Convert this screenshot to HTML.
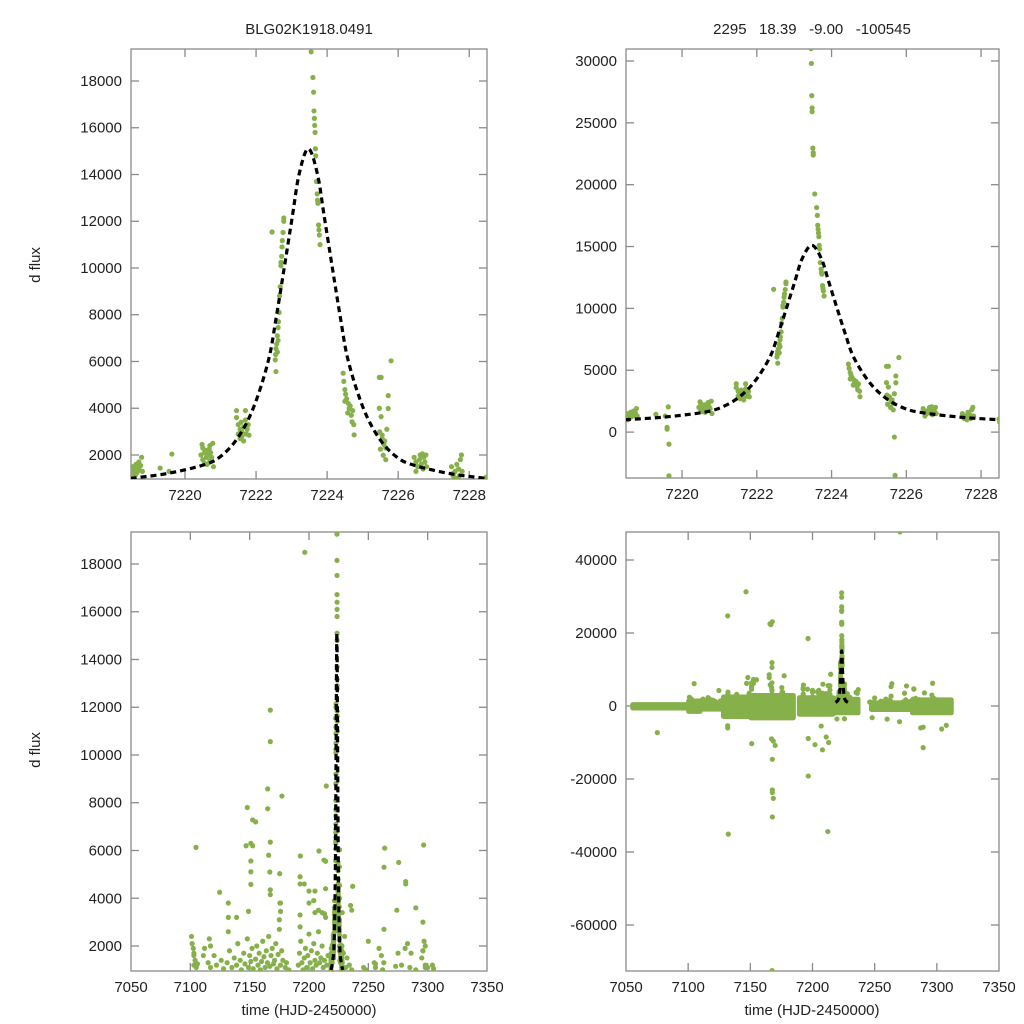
<!DOCTYPE html>
<html><head><meta charset="utf-8">
<style>
html,body{margin:0;padding:0;background:#fff;width:1024px;height:1024px;overflow:hidden;position:relative;}
svg{display:block;position:absolute;left:0;top:0;font-family:"Liberation Sans",sans-serif;}
</style></head>
<body>
<svg id="fig" width="1024" height="1024" viewBox="0 0 1024 1024" xmlns="http://www.w3.org/2000/svg">
<rect width="1024" height="1024" fill="#fff"/>
<text x="309" y="34" font-size="15" text-anchor="middle" fill="#222">BLG02K1918.0491</text>
<text x="812" y="34" font-size="15" text-anchor="middle" fill="#222" xml:space="preserve">2295   18.39   -9.00   -100545</text>
<text transform="translate(40,265) rotate(-90)" font-size="15" text-anchor="middle" fill="#222">d flux</text>
<text transform="translate(40,750) rotate(-90)" font-size="15" text-anchor="middle" fill="#222">d flux</text>
<text x="309" y="1015" font-size="15" text-anchor="middle" fill="#222">time (HJD-2450000)</text>
<text x="812" y="1015" font-size="15" text-anchor="middle" fill="#222">time (HJD-2450000)</text>
</svg>
<script>
// ---- event-window photometry (time, flux) ----
const eventT = [7218.5,7218.52,7218.55,7218.57,7218.6,7218.62,7218.65,7218.67,7218.7,7218.72,7218.75,7218.78,7218.8,7218.55,7218.6,
7219.3,7219.63,7219.55,7219.6,7219.6,7219.65,7219.65,
7220.45,7220.5,7220.5,7220.55,7220.6,7220.6,7220.62,7220.65,7220.7,7220.7,7220.72,7220.75,7220.78,7220.8,7220.55,7220.68,7220.48,
7221.45,7221.45,7221.5,7221.5,7221.55,7221.55,7221.6,7221.6,7221.65,7221.65,7221.7,7221.7,7221.72,7221.75,7221.78,7221.8,7221.58,
7222.45,7222.78,7222.78,7222.76,7222.74,7222.73,7222.72,7222.7,7222.7,7222.68,7222.66,7222.65,7222.63,7222.62,7222.6,7222.58,7222.56,7222.55,7222.54,7222.56,7222.6,7222.62,
7223.45,7223.46,7223.47,7223.48,7223.48,7223.5,7223.51,7223.51,7223.55,7223.6,7223.62,7223.63,7223.64,7223.65,7223.66,7223.67,7223.68,7223.7,7223.72,7223.73,7223.74,7223.76,7223.77,7223.78,7223.8,
7224.45,7224.47,7224.5,7224.52,7224.55,7224.6,7224.62,7224.65,7224.68,7224.7,7224.72,7224.75,7224.76,7224.5,7224.58,
7225.8,7225.47,7225.52,7225.72,7225.47,7225.72,7225.52,7225.68,7225.48,7225.55,7225.6,7225.65,7225.5,7225.58,7225.62,7225.55,7225.68,7225.7,7225.65,
7226.45,7226.5,7226.55,7226.6,7226.62,7226.65,7226.7,7226.72,7226.75,7226.78,7226.8,7226.5,7226.68,
7227.5,7227.52,7227.55,7227.6,7227.62,7227.65,7227.7,7227.72,7227.75,7227.78,7227.8,7227.58,
7228.48,7228.5];
const eventF = [1200,1500,1300,1100,1400,1600,1250,1450,1700,1350,1550,1900,1300,1000,1150,
1440,2040,1300,380,240,-970,-3540,
2000,2300,1800,2100,1900,2200,1600,2000,2400,1750,2100,1900,2500,1500,1650,2250,2450,
3900,3600,3300,2900,3100,2700,3000,2800,3200,2600,3900,3500,2900,3100,3300,2850,3400,
11540,12140,12000,11520,11170,10900,10500,10240,10100,9200,8800,8100,7700,7450,7100,6750,6550,6300,6070,5570,6400,6900,
31000,29800,27200,26200,25900,22960,22580,22400,19250,18150,17520,16720,16400,16100,15800,15100,14800,13700,13170,12900,12770,11840,11630,11410,11000,
5500,5150,4800,4600,4400,4200,3990,4100,3700,3420,3900,3300,2860,4300,3800,
6030,5320,5320,4540,4000,3990,3640,3100,2990,2700,2450,2300,2250,1990,2600,2850,-400,-3500,1800,
1900,1700,1500,1800,2000,1600,1400,1900,1700,2000,1500,1300,2050,
1500,1200,1100,1300,1000,1600,1400,1100,1800,2000,1300,1250,
1050,800];
// ---- season scatter points (time, flux) ----
const seasonT = [7131,7133,7135,7137,7139,7140,7142,7143,7145,7146,7148,7149,7150,7151,7152,7153,7155,7156,7157,7158,7159,7160,7161,7162,7163,7164,7165,7166,7167,7168,7169,7170,7171,7172,7173,7174,7175,7175,7176,7177,7178,7180,7181,7183,
7191,7192,7193,7194,7195,7196,7197,7198,7199,7200,7201,7202,7203,7204,7205,7206,7207,7208,7209,7210,7211,7212,7213,7214,7215,7216,7226,7227,7228,7229,7230,7231,7232,7234,7236,
7115,7117,7120,7122,7126,7128,7103,7104,7105,7106,7112,7111,7246,7248,7255,7256,7262,7275,7278,7285,7290,7295,7296,7298,7300,7305,
7196.4,7167.4,7167.4,7165.2,7177.2,7165.2,7152.5,7104.8,7147,7152.5,7167.4,7296.6,7214.6,7208.4,7192.7,7212.6,7214,7151,7151,7151,7166,7167,7175.3,7167.4,7167.4,7124.7,7192.5,7196,7192.5,7200,7205,7214,7236.8,7263.2,7281.5,7281.5,7132,7132,7132,7139,7149,7175.5,7176,7176,7192.5,7192.5,7200,7204,7208,7205,7211,7213,7235,7236,7228,7274,7290,7296,7263.2,7250,7283,7281,7286,7297,7298,7296,7259,7261,7263,7256,7273,7304,7298,7101,7101.5,7102.5,7103,7103,7117,7116,
7270.4,7146.5,7131.8,7167.7,7165.8,7166.5,7263.8,7275.6,7148,7155,7151,
7075.2,7131.8,7131.8,7151.1,7167,7168.5,7170,7167.7,7167.7,7167.7,7168.5,7167.7,7132.3,7212.3,7196.6,7196.6,7202,7207,7208,7211,7213,7289,7289,7287,7303.9,7307.6,7270,7248,7260,7167.5];
const seasonF = [1300,1800,1100,1500,1200,2100,1400,1000,1700,1250,2300,1100,1600,1350,1900,1050,1450,2000,1200,1700,1000,1350,2200,1550,1100,1800,1300,2400,1150,1600,1900,1250,1400,2100,1050,1650,2700,3100,1200,1800,1400,1100,1300,1000,
1200,1700,2200,1300,1000,1500,1900,1100,1600,2500,1300,1800,1050,2100,1400,1200,1700,2600,1300,1500,2000,1100,1400,3200,1200,1600,1400,2000,1300,1700,2400,1100,1500,1200,1000,
1300,1100,1600,1200,1400,1050,1700,1400,1100,1250,1900,1600,1100,1000,1300,1100,1000,1700,1200,1100,1000,1500,1800,1200,1100,1050,
18490,11880,10560,8580,8280,7750,7280,6130,6200,6200,6350,6230,8700,5980,5770,5600,5550,5560,5110,4580,5800,5100,5030,4350,4150,4250,4900,4600,4600,4300,4300,4400,4500,5300,4700,4600,3800,3200,2600,3200,3450,3800,3450,3800,3300,2800,3800,3900,3500,3400,3400,3350,3700,3500,3400,3500,3600,3000,2700,2200,2100,1900,1700,2200,2000,1800,1900,1600,1300,1250,1150,1200,1100,2400,2100,1900,1600,1200,2000,2300,
47700,31300,24700,23100,22500,22300,6100,5500,7800,7200,6300,
-7300,-6000,-5400,-10300,-9000,-9600,-10800,-14600,-23000,-23700,-25300,-30400,-35100,-34400,-19200,-8900,-10600,-5500,-12000,-8500,-10000,-11400,-5800,-6000,-6300,-5300,-4300,-3200,-3600,-72500];
// ---- dense baseline band segments for the full season (time start/end, flux upper/lower) ----
const bandT0 = [7055,7100,7110,7128,7150,7189,7218,7247,7280];
const bandT1 = [7100,7110,7128,7150,7185,7217,7237,7280,7312];
const bandHi = [500,1500,900,2600,3000,2400,2000,1000,1800];
const bandLo = [-700,-1600,-1000,-3000,-3400,-2400,-2000,-1100,-2000];
// ---- microlensing model curve ----
const modelT = [7218.47,7219.47,7220.47,7220.97,7221.47,7221.92,7222.34,7222.58,7223.0,7223.21,7223.47,7223.73,7223.94,7224.36,7224.6,7225.02,7225.47,7225.97,7226.47,7227.47,7228.47];
const modelF = [1000,1200,1550,1900,2700,4000,6000,8000,12000,14000,15100,14000,12000,8000,6000,4000,2700,1900,1550,1200,1000];
// ---- axis ticks ----
const ticksXZoom = [7220,7222,7224,7226,7228];
const ticksXSeason = [7050,7100,7150,7200,7250,7300,7350];
const ticksYA = [2000,4000,6000,8000,10000,12000,14000,16000,18000];
const ticksYB = [0,5000,10000,15000,20000,25000,30000];
const ticksYD = [-60000,-40000,-20000,0,20000,40000];

const NS = "http://www.w3.org/2000/svg";
const svg = document.getElementById('fig');
const GREEN = "#86b04a";

const panels = [
  {id:'top-left', px0:131,px1:487,py0:49,py1:479,x0:7218.48,x1:7228.5,y0:973,y1:19369,xt:ticksXZoom,yt:ticksYA,season:false,band:false},
  {id:'top-right',px0:626,px1:999,py0:49,py1:478,x0:7218.5,x1:7228.48,y0:-3710,y1:30968,xt:ticksXZoom,yt:ticksYB,season:false,band:false},
  {id:'bottom-left',px0:131,px1:487,py0:532,py1:971,x0:7050,x1:7350,y0:953,y1:19340,xt:ticksXSeason,yt:ticksYA,season:true,band:false},
  {id:'bottom-right',px0:626,px1:999,py0:532,py1:971,x0:7050,x1:7350,y0:-72600,y1:47671,xt:ticksXSeason,yt:ticksYD,season:true,band:true}
];

function mk(tag, attrs, parent){
  const e = document.createElementNS(NS, tag);
  for (const k in attrs) e.setAttribute(k, attrs[k]);
  (parent||svg).appendChild(e);
  return e;
}

panels.forEach(function(p){
  const sx = v => p.px0 + (v - p.x0) / (p.x1 - p.x0) * (p.px1 - p.px0);
  const sy = v => p.py1 - (v - p.y0) / (p.y1 - p.y0) * (p.py1 - p.py0);
  const inside = (x, y) => x >= p.px0 - 3 && x <= p.px1 + 3 && y >= p.py0 - 3 && y <= p.py1 + 3;
  const g = mk('g', {});
  
  
  const cp = mk('clipPath', {id:'clip-' + p.id}, g);
  mk('rect', {x:p.px0, y:p.py0, width:p.px1 - p.px0, height:p.py1 - p.py0}, cp);

  const frame = mk('rect', {x:p.px0, y:p.py0, width:p.px1 - p.px0, height:p.py1 - p.py0, fill:'none', stroke:'#8a8a8a', 'stroke-width':1.3}, g);
  
  

  p.xt.forEach(function(t){
    const x = sx(t);
    if (x > p.px0 + 1 && x < p.px1 - 1) {
      mk('line', {x1:x, x2:x, y1:p.py1, y2:p.py1 - 8, stroke:'#8a8a8a', 'stroke-width':1.3}, g);
      mk('line', {x1:x, x2:x, y1:p.py0, y2:p.py0 + 8, stroke:'#8a8a8a', 'stroke-width':1.3}, g);
    }
    const lb = mk('text', {x:x, y:p.py1 + 21, 'font-size':15, 'text-anchor':'middle', fill:'#222'}, g);
    lb.textContent = t;
    
    
  });
  p.yt.forEach(function(v){
    const y = sy(v);
    mk('line', {x1:p.px0, x2:p.px0 + 8, y1:y, y2:y, stroke:'#8a8a8a', 'stroke-width':1.3}, g);
    mk('line', {x1:p.px1, x2:p.px1 - 8, y1:y, y2:y, stroke:'#8a8a8a', 'stroke-width':1.3}, g);
    const lb = mk('text', {x:p.px0 - 9, y:y + 5, 'font-size':15, 'text-anchor':'end', fill:'#222'}, g);
    lb.textContent = v;
    
    
  });

  const dg = mk('g', {'clip-path':'url(#clip-' + p.id + ')'}, g);
  
  

  if (p.band) {
    for (let i = 0; i < bandT0.length; i++) {
      const x0 = sx(bandT0[i]), x1 = sx(bandT1[i]);
      const y0 = sy(bandHi[i]), y1 = sy(bandLo[i]);
      const r = mk('rect', {x:x0 - 2, y:y0 - 2, width:x1 - x0 + 4, height:y1 - y0 + 4, rx:2.5, fill:GREEN}, dg);
      
      
    }
  }
  function dot(t, f){
    const x = sx(t), y = sy(f);
    if (!inside(x, y)) return;
    const c = mk('circle', {cx:x, cy:y, r:2.6, fill:GREEN}, dg);
    
    
  }
  for (let i = 0; i < eventT.length; i++) dot(eventT[i], eventF[i]);
  if (p.season) for (let i = 0; i < seasonT.length; i++) dot(seasonT[i], seasonF[i]);

  const pts = modelT.map((t, i) => [sx(t), sy(modelF[i])]);
  let d = 'M' + pts[0][0] + ',' + pts[0][1];
  for (let i = 0; i < pts.length - 1; i++) {
    const p0 = pts[Math.max(0, i - 1)], p1 = pts[i], p2 = pts[i + 1], p3 = pts[Math.min(pts.length - 1, i + 2)];
    const c1x = p1[0] + (p2[0] - p0[0]) / 6, c1y = p1[1] + (p2[1] - p0[1]) / 6;
    const c2x = p2[0] - (p3[0] - p1[0]) / 6, c2y = p2[1] - (p3[1] - p1[1]) / 6;
    d += ' C' + c1x + ',' + c1y + ' ' + c2x + ',' + c2y + ' ' + p2[0] + ',' + p2[1];
  }
  const path = mk('path', {d:d, fill:'none', stroke:'#000', 'stroke-width':3.2, 'stroke-dasharray':'6,4'}, dg);
  
  
});
</script>
</body></html>
